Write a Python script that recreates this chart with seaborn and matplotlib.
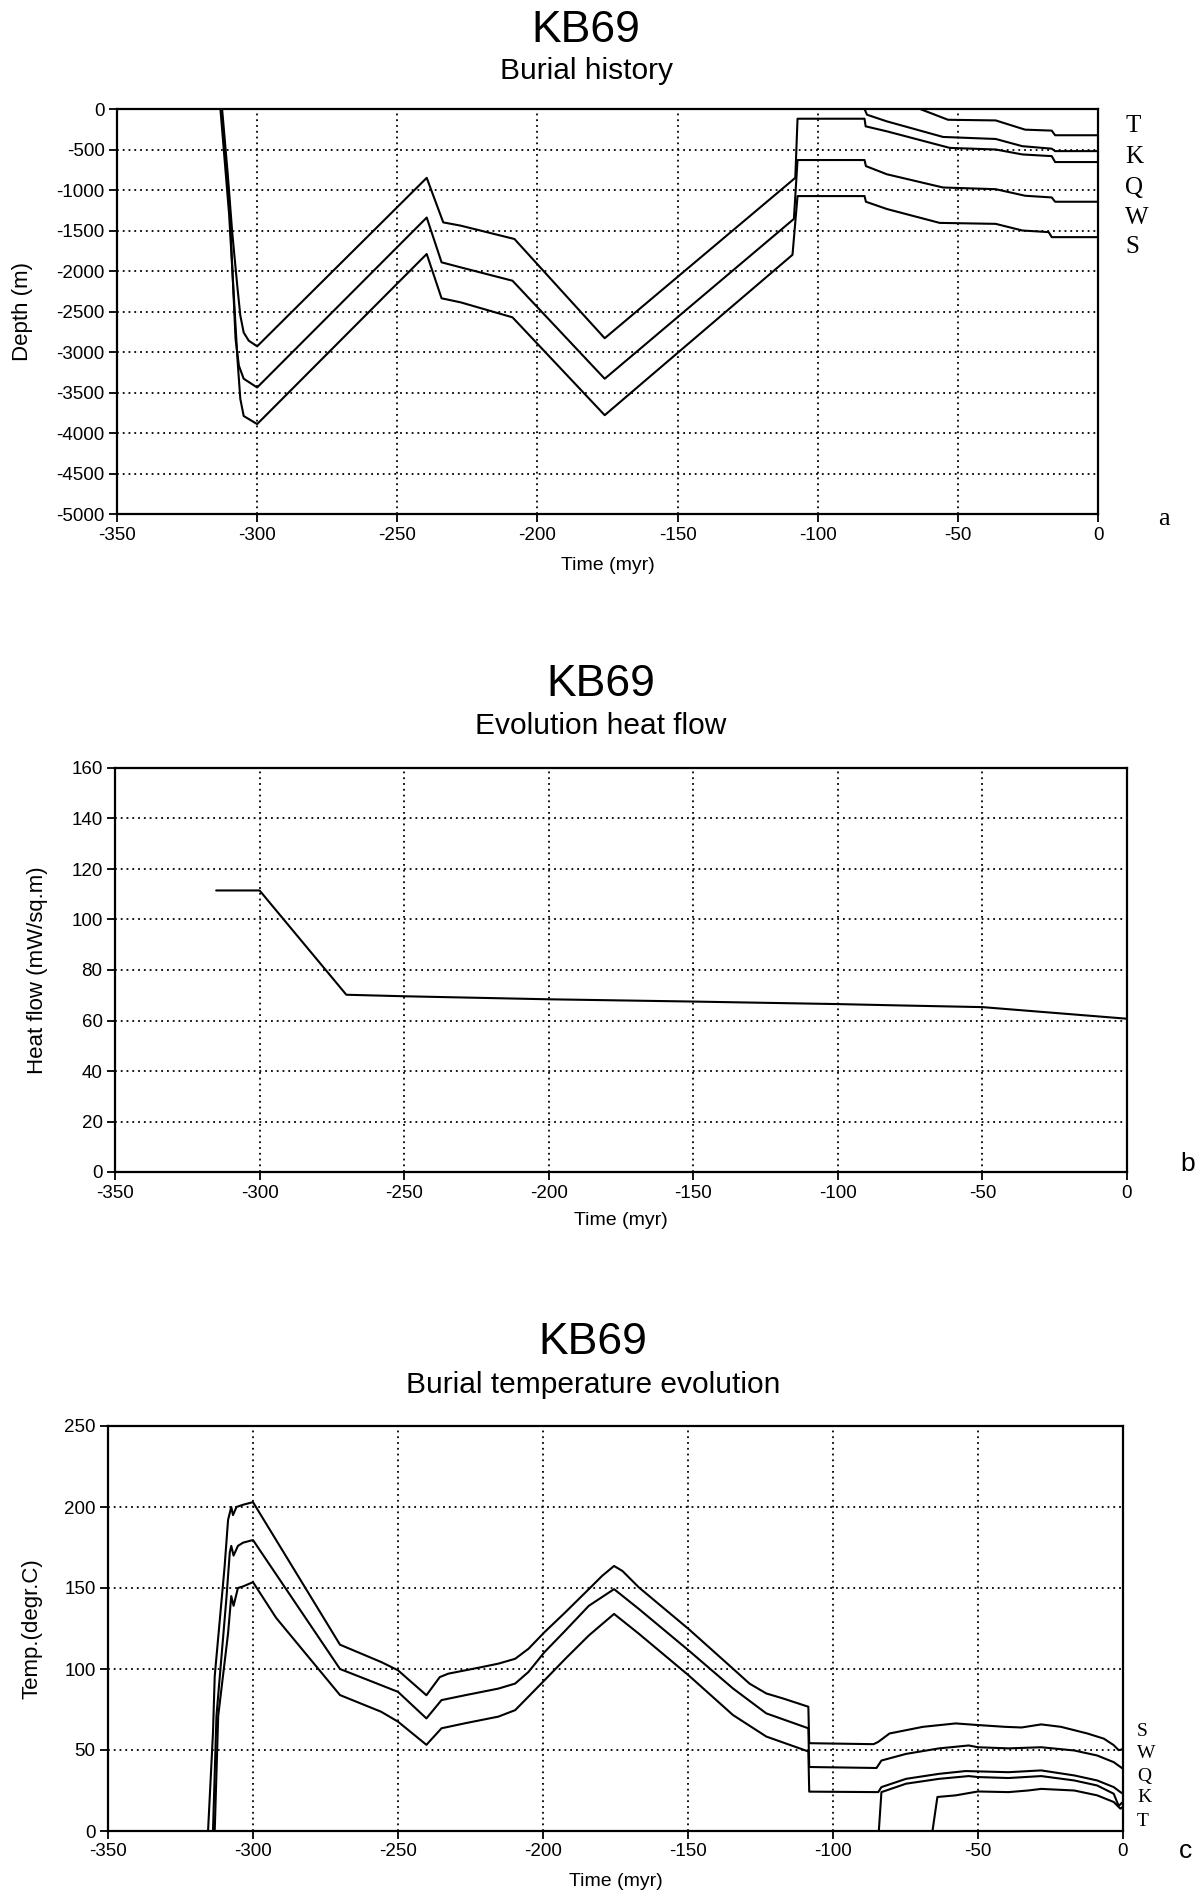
import matplotlib
matplotlib.use("Agg")
import matplotlib.pyplot as plt
import seaborn as sns

sns.set_style("white")
plt.rcParams['font.family'] = ['Liberation Sans', 'DejaVu Sans']
plt.rcParams['axes.unicode_minus'] = False
plt.rcParams['text.color'] = 'black'
plt.rcParams['axes.labelcolor'] = 'black'
plt.rcParams['xtick.color'] = 'black'
plt.rcParams['ytick.color'] = 'black'

# ---------------- Panel a: burial history (depth, m) ----------------
a_Q_t = [-312.5, -310.5, -308.9, -307.1, -306.0, -304.8, -303.0, -300.0, -239.5, -233.6, -227.4, -208.2, -176.0,
         -108.0, -107.2, -83.3, -82.9, -75.3, -52.9, -36.5, -27.0, -16.5, -15.3, 0.0]
a_Q_d = [0, -800, -1520, -2180, -2550, -2760, -2860, -2930, -850, -1400, -1440, -1605, -2830,
         -850, -120, -120, -214, -276, -480, -500, -561, -582, -655, -655]
a_W_t = [-312.8, -310.0, -307.7, -306.5, -304.8, -300.0, -239.5, -234.2, -227.4, -208.9, -176.0,
         -108.5, -107.2, -83.3, -82.8, -75.3, -55.3, -36.5, -26.0, -16.5, -15.3, 0.0]
a_W_d = [0, -1100, -2840, -3170, -3330, -3438, -1340, -1893, -1955, -2120, -3330,
         -1357, -630, -630, -705, -806, -969, -990, -1071, -1092, -1145, -1145]
a_S_t = [-313.1, -310.0, -307.0, -306.0, -304.8, -300.0, -239.5, -234.2, -227.4, -208.9, -176.0,
         -109.0, -107.2, -83.3, -82.8, -75.3, -56.5, -36.5, -27.0, -17.6, -16.5, 0.0]
a_S_d = [0, -1300, -3100, -3580, -3790, -3890, -1790, -2337, -2387, -2572, -3780,
         -1800, -1075, -1075, -1145, -1235, -1406, -1418, -1500, -1520, -1582, -1582]
a_K_t = [-83.3, -82.4, -75.3, -55.3, -36.5, -27.0, -16.5, -15.3, 0.0]
a_K_d = [0, -71, -153, -345, -370, -459, -490, -520, -520]
a_T_t = [-63.5, -53.5, -36.5, -26.0, -16.5, -15.3, 0.0]
a_T_d = [0, -133, -141, -255, -267, -324, -324]

# ---------------- Panel b: heat flow ----------------
b_t = [-315, -300, -270, -250, -225, -200, -150, -100, -80, -50, -25, 0]
b_hf = [111.5, 111.5, 70.2, 69.6, 69.0, 68.4, 67.5, 66.5, 66.0, 65.3, 63.0, 60.7]

# ---------------- Panel c: burial temperature ----------------
c_S_t = [-315.5, -313.8, -313.2, -309.8, -308.6, -307.5, -306.9, -305.7, -303.4, -300.0, -270.0, -255.8, -250.0,
         -240.2, -235.6, -232.7, -221.1, -215.4, -209.6, -205.0, -199.5, -192.3, -184.2, -179.6, -175.5, -172.6,
         -166.9, -149.8, -134.5, -128.8, -123.0, -117.2, -108.5, -108.2, -86.0, -84.4, -80.5, -69.0, -57.7, -50.0,
         -40.7, -35.0, -28.2, -21.4, -12.3, -6.6, -3.2, -1.5, 0.0]
c_S_T = [0, 60.6, 95.6, 163, 192, 200, 195, 200, 201.4, 203, 115, 104.3, 99.2,
         83.8, 95, 97.1, 101.2, 103.3, 106.3, 112.5, 122.7, 135, 149.3, 157.5, 163.6, 160.5,
         150.3, 124.7, 100.2, 91, 84.9, 81.8, 76.7, 54.2, 53.6, 55, 60.2, 64.3, 66.4, 65.4,
         64.3, 63.9, 65.8, 64.3, 60.2, 57, 53, 49.9, 50.5]
c_W_t = [-313.8, -312.6, -309.2, -308.0, -307.5, -306.7, -305.2, -303.4, -300.0, -270.0, -255.8, -250.0, -240.2,
         -235.0, -226.9, -215.4, -209.6, -205.0, -199.5, -192.3, -184.2, -175.5, -166.9, -149.8, -134.5, -123.0,
         -108.5, -108.2, -85.0, -83.3, -74.8, -63.4, -53.2, -50.0, -39.5, -28.2, -16.8, -8.9, -3.2, 0.0]
c_W_T = [0, 71, 143, 172, 176, 170, 176, 178, 179.6, 100, 90, 85.9, 69.5,
         80.8, 83.8, 87.9, 91, 98.2, 110.4, 123.7, 139, 149.3, 137, 111.5, 88, 72.6,
         63.4, 39.5, 38.9, 43.5, 47.6, 51, 52.8, 51.7, 51, 51.7, 49.7, 46.6, 42.5, 38.4]
c_Q_t = [-313.2, -312.0, -308.6, -307.5, -306.7, -305.2, -303.4, -300.0, -292.0, -270.0, -255.8, -250.0, -240.2,
         -235.0, -226.9, -215.4, -209.6, -199.5, -192.3, -184.2, -175.5, -166.9, -149.8, -134.5, -123.0, -108.5,
         -108.2, -84.4, -83.3, -74.8, -63.4, -54.3, -50.0, -39.5, -28.2, -16.8, -8.9, -3.2, -0.9, 0.0]
c_Q_T = [0, 71, 122, 145, 139, 150, 151, 153.6, 131.5, 83.9, 73.6, 67.5, 53.2,
         63.4, 66.5, 70.6, 74.6, 93, 106.3, 120.7, 134, 121.7, 96.1, 71.6, 58.3, 49.1,
         24.3, 24, 27.1, 32.2, 35.3, 37, 36.8, 36.3, 37.4, 34.3, 31.2, 27.1, 24, 23]
c_K_t = [-84.2, -83.3, -74.8, -63.4, -53.2, -50.0, -39.5, -28.2, -16.8, -8.9, -3.2, -1.5, 0.0]
c_K_T = [0, 24, 29.2, 32.2, 33.9, 33.3, 32.7, 33.9, 31.2, 28.1, 23, 15.5, 18]
c_T_t = [-65.7, -64.0, -57.7, -50.0, -39.5, -32.7, -28.2, -16.8, -8.9, -3.2, -0.9, 0.0]
c_T_T = [0, 21, 22, 24.4, 24, 25, 26, 25, 22, 17.9, 13.8, 15]

x_ticks = [-350, -300, -250, -200, -150, -100, -50, 0]
a_yticks = [0, -500, -1000, -1500, -2000, -2500, -3000, -3500, -4000, -4500, -5000]
b_yticks = [0, 20, 40, 60, 80, 100, 120, 140, 160]
c_yticks = [0, 50, 100, 150, 200, 250]

a_labels = ["T", "K", "Q", "W", "S"]
c_labels = ["S", "W", "Q", "K", "T"]

W, H = 1200, 1897
fig = plt.figure(figsize=(W / 100, H / 100), dpi=100)


def add_axes(l, t, r, b):
    return fig.add_axes([l / W, 1 - b / H, (r - l) / W, (b - t) / H])


def style(ax, yticks, ylim, ylabel, ylx, xly):
    ax.set_xlim(-350, 0)
    ax.set_ylim(*ylim)
    ax.set_xticks(x_ticks)
    ax.set_yticks(yticks)
    ax.set_xticklabels([str(v) for v in x_ticks])
    ax.set_yticklabels([str(v) for v in yticks])
    ax.tick_params(direction='out', length=6, width=1.3, labelsize=13.5, colors='black', pad=3,
                   left=True, bottom=True)
    ax.grid(True, color='black', linestyle=(0, (1, 2.2)), linewidth=1.3)
    for s in ax.spines.values():
        s.set_visible(True)
        s.set_color('black')
        s.set_linewidth(1.6)
    ax.set_xlabel("Time (myr)", fontsize=14)
    ax.set_ylabel(ylabel, fontsize=16)
    ax.xaxis.set_label_coords(0.5, xly)
    ax.yaxis.set_label_coords(ylx, 0.5)


def line(ax, x, y):
    sns.lineplot(x=x, y=y, ax=ax, sort=False, estimator=None, color='black', linewidth=1.5)


TITLE = 32
SUB = 21.5

# Panel a
axa = add_axes(117, 109, 1098, 514)
for tt, dd in [(a_Q_t, a_Q_d), (a_W_t, a_W_d), (a_S_t, a_S_d), (a_K_t, a_K_d), (a_T_t, a_T_d)]:
    line(axa, tt, dd)
style(axa, a_yticks, (-5000, 0), "Depth (m)", -0.086, -0.106)
for lab, yy in zip(a_labels, [126, 157, 188, 218, 247]):
    axa.text((1125 - 117) / 981, (514 - yy) / 405, lab, transform=axa.transAxes, fontsize=18,
             family='Liberation Serif', ha='left', va='center')
fig.text(1164 / W, 1 - 519 / H, "a", fontsize=19, family='Liberation Serif', ha='center', va='center')
fig.text(586 / W, 1 - 30 / H, "KB69", fontsize=TITLE, ha='center', va='center')
fig.text(586 / W, 1 - 71 / H, "Burial history", fontsize=SUB, ha='center', va='center')

# Panel b
axb = add_axes(115, 768, 1127, 1172)
line(axb, b_t, b_hf)
style(axb, b_yticks, (0, 160), "Heat flow (mW/sq.m)", -0.066, -0.1)
fig.text(1188 / W, 1 - 1164 / H, "b", fontsize=19, ha='center', va='center')
fig.text(601 / W, 1 - 684 / H, "KB69", fontsize=TITLE, ha='center', va='center')
fig.text(601 / W, 1 - 726 / H, "Evolution heat flow", fontsize=SUB, ha='center', va='center')

# Panel c
axc = add_axes(108, 1426, 1123, 1831)
for tt, vv in [(c_S_t, c_S_T), (c_W_t, c_W_T), (c_Q_t, c_Q_T), (c_K_t, c_K_T), (c_T_t, c_T_T)]:
    line(axc, tt, vv)
style(axc, c_yticks, (0, 250), "Temp.(degr.C)", -0.065, -0.104)
for lab, yy in zip(c_labels, [1731, 1753, 1776, 1798, 1821]):
    axc.text((1137 - 108) / 1015, (1831 - yy) / 405, lab, transform=axc.transAxes, fontsize=14,
             family='Liberation Serif', ha='left', va='center')
fig.text(1185 / W, 1 - 1851 / H, "c", fontsize=19, ha='center', va='center')
fig.text(593 / W, 1 - 1343 / H, "KB69", fontsize=TITLE, ha='center', va='center')
fig.text(593 / W, 1 - 1385 / H, "Burial temperature evolution", fontsize=SUB, ha='center', va='center')

fig.savefig("out.png", dpi=100, facecolor='white')
